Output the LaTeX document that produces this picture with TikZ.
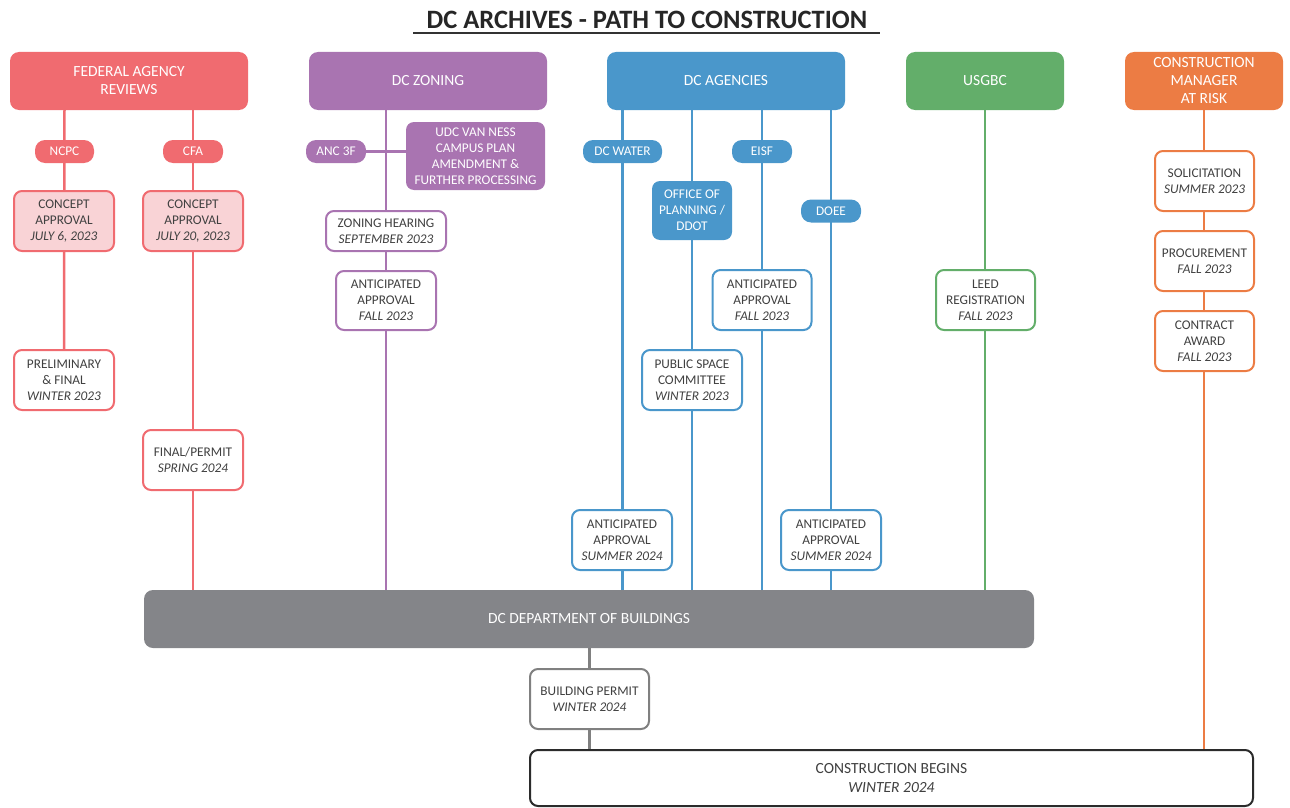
\documentclass[tikz,border=0pt]{standalone}
\usepackage{fontspec}
\setmainfont{Carlito}
\usetikzlibrary{backgrounds}
\definecolor{cred}{HTML}{F06B70}
\definecolor{cpink}{HTML}{F9D3D6}
\definecolor{cpur}{HTML}{A974B1}
\definecolor{cblue}{HTML}{4A97CB}
\definecolor{cgreen}{HTML}{63AE6A}
\definecolor{corange}{HTML}{EC7C44}
\definecolor{cgray}{HTML}{848589}
\definecolor{cgraybox}{HTML}{808080}
\definecolor{ctext}{HTML}{404040}
\definecolor{cdark}{HTML}{2B2B2B}
\begin{document}
\begin{tikzpicture}[x=1pt,y=-1pt,
  hdr/.style={fill=#1,draw=none,rounded corners=9pt,text=white,align=center,inner sep=0pt,
    font=\fontsize{15.5}{18}\selectfont},
  pill/.style={fill=#1,draw=none,rounded corners=10pt,text=white,align=center,inner sep=0pt,
    minimum height=23pt,font=\fontsize{13.3}{16}\selectfont},
  sbox/.style={fill=white,draw=#1,line width=2pt,rounded corners=8pt,text=ctext,align=center,inner sep=0pt,
    font=\fontsize{13.3}{16}\selectfont},
  conn/.style={draw=#1,line width=2.5pt},
]
\useasboundingbox (0,0) rectangle (1290,808);
% title
\node[font=\fontsize{26.5}{30}\selectfont\bfseries,text=black!85] (title) at (647,20) {DC ARCHIVES - PATH TO CONSTRUCTION};
\coordinate (ulL) at (413,33);
\coordinate (ulR) at (880,33);
\draw[line width=1.2pt,black!80] (ulL) -- (ulR);

% headers
\node[hdr=cred,minimum width=238pt,minimum height=58pt] (fed) at (129,81) {FEDERAL AGENCY\\REVIEWS};
\node[hdr=cpur,minimum width=238pt,minimum height=58pt] (zon) at (428,81) {DC ZONING};
\node[hdr=cblue,minimum width=238pt,minimum height=58pt] (agn) at (726,81) {DC AGENCIES};
\node[hdr=cgreen,minimum width=158pt,minimum height=58pt] (usg) at (985,81) {USGBC};
\node[hdr=corange,minimum width=158pt,minimum height=58pt] (cm) at (1204,81) {CONSTRUCTION\\MANAGER\\AT RISK};

% federal
\node[pill=cred,minimum width=59pt] (ncpc) at (64.5,151.5) {NCPC};
\node[pill=cred,minimum width=60pt] (cfa) at (193,151.5) {CFA};
\node[sbox=cred,fill=cpink,minimum width=100pt,minimum height=60pt] (ca1) at (64,221) {CONCEPT\\APPROVAL\\\textit{JULY 6, 2023}};
\node[sbox=cred,fill=cpink,minimum width=100pt,minimum height=60pt] (ca2) at (193,221) {CONCEPT\\APPROVAL\\\textit{JULY 20, 2023}};
\node[sbox=cred,minimum width=100pt,minimum height=60pt] (pf) at (64,380) {PRELIMINARY\\\& FINAL\\\textit{WINTER 2023}};
\node[sbox=cred,minimum width=100pt,minimum height=60pt] (fp) at (193,460) {FINAL/PERMIT\\\textit{SPRING 2024}};

% zoning
\node[pill=cpur,minimum width=60pt] (anc) at (336,151.5) {ANC 3F};
\node[hdr=cpur,rounded corners=8pt,minimum width=139pt,minimum height=68pt,font=\fontsize{13.3}{16}\selectfont] (udc) at (475.5,156) {UDC VAN NESS\\CAMPUS PLAN\\AMENDMENT \&\\FURTHER PROCESSING};
\node[sbox=cpur,minimum width=120pt,minimum height=40pt] (zh) at (386,231) {ZONING HEARING\\\textit{SEPTEMBER 2023}};
\node[sbox=cpur,minimum width=100pt,minimum height=59pt] (za) at (386,300.5) {ANTICIPATED\\APPROVAL\\\textit{FALL 2023}};

% agencies
\node[pill=cblue,minimum width=79pt] (dcw) at (622.5,151.5) {DC WATER};
\node[pill=cblue,minimum width=60pt] (eisf) at (762,151.5) {EISF};
\node[hdr=cblue,rounded corners=8pt,minimum width=80pt,minimum height=59pt,font=\fontsize{13.3}{16}\selectfont] (op) at (692,210.5) {OFFICE OF\\PLANNING /\\DDOT};
\node[pill=cblue,minimum width=60pt] (doee) at (831,211) {DOEE};
\node[sbox=cblue,minimum width=99pt,minimum height=60pt] (ea) at (762,300) {ANTICIPATED\\APPROVAL\\\textit{FALL 2023}};
\node[sbox=cblue,minimum width=100pt,minimum height=60pt] (psc) at (692,380) {PUBLIC SPACE\\COMMITTEE\\\textit{WINTER 2023}};
\node[sbox=cblue,minimum width=100pt,minimum height=60pt] (wa) at (622,540) {ANTICIPATED\\APPROVAL\\\textit{SUMMER 2024}};
\node[sbox=cblue,minimum width=100pt,minimum height=60pt] (da) at (831,540) {ANTICIPATED\\APPROVAL\\\textit{SUMMER 2024}};

% usgbc
\node[sbox=cgreen,minimum width=99pt,minimum height=60pt] (leed) at (985.5,300) {LEED\\REGISTRATION\\\textit{FALL 2023}};

% cm at risk
\node[sbox=corange,minimum width=99pt,minimum height=60pt] (sol) at (1204.5,181) {SOLICITATION\\\textit{SUMMER 2023}};
\node[sbox=corange,minimum width=99pt,minimum height=60pt] (pro) at (1204.5,261) {PROCUREMENT\\\textit{FALL 2023}};
\node[sbox=corange,minimum width=99pt,minimum height=60pt] (cav) at (1204.5,341) {CONTRACT\\AWARD\\\textit{FALL 2023}};

% bottom
\node[fill=cgray,rounded corners=9pt,text=white,inner sep=0pt,minimum width=890pt,minimum height=58pt,font=\fontsize{15.5}{18}\selectfont] (dob) at (589,619) {DC DEPARTMENT OF BUILDINGS};
\node[sbox=cgraybox,minimum width=119pt,minimum height=60pt] (bp) at (589.5,699) {BUILDING PERMIT\\\textit{WINTER 2024}};
\node[sbox=cdark,minimum width=723pt,minimum height=56pt,font=\fontsize{15.5}{19}\selectfont] (cb) at (891.5,778) {CONSTRUCTION BEGINS\\\textit{WINTER 2024}};

% connectors
\begin{scope}[on background layer]
\draw[conn=cred] (fed.south -| ncpc) -- (pf.north);
\draw[conn=cred] (fed.south -| cfa) -- (dob.north -| cfa);
\draw[conn=cpur] (zon.south -| zh) -- (dob.north -| zh);
\draw[conn=cpur] (anc.east) -- (anc.east -| udc.west);
\draw[conn=cblue] (agn.south -| dcw) -- (dob.north -| dcw);
\draw[conn=cblue] (agn.south -| op) -- (dob.north -| op);
\draw[conn=cblue] (agn.south -| eisf) -- (dob.north -| eisf);
\draw[conn=cblue] (agn.south -| doee) -- (dob.north -| doee);
\draw[conn=cgreen] (usg.south) -- (dob.north -| usg);
\draw[conn=corange] (cm.south) -- (cb.north -| cm);
\draw[conn=cgraybox] (dob.south -| bp) -- (cb.north -| bp);
\end{scope}
\end{tikzpicture}
\end{document}
